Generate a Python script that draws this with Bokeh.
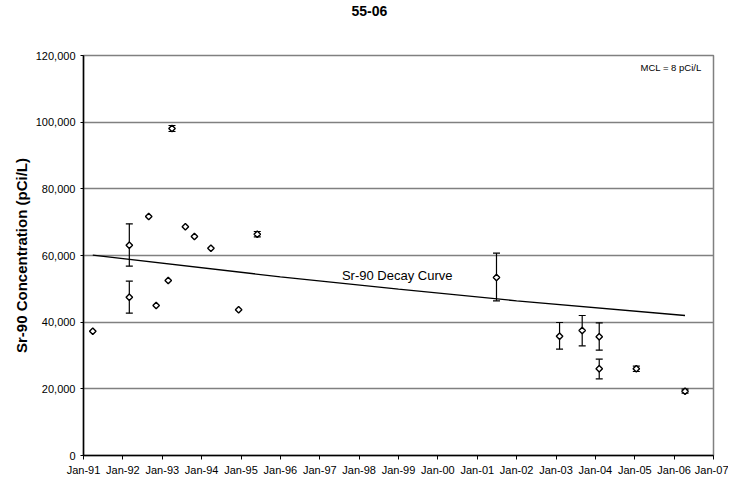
import pandas as pd
from bokeh.plotting import figure
from bokeh.models import (ColumnDataSource, Whisker, TeeHead, FixedTicker, Title,
                          DatetimeTickFormatter, NumeralTickFormatter, Label, Range1d)
from bokeh.embed import file_html
from bokeh.resources import INLINE

# ---- data ----
sample_dates = ["1991-03-28", "1992-03-01", "1992-03-01", "1992-08-28", "1992-11-05",
                "1993-02-25", "1993-04-01", "1993-08-03", "1993-10-26", "1994-03-28",
                "1994-12-10", "1995-06-01", "2001-06-28", "2003-02-03", "2003-09-01",
                "2004-02-06", "2004-02-06", "2005-01-15", "2006-04-12"]
sr90 = [37300, 63100, 47500, 71700, 45000,
        52500, 98100, 68600, 65700, 62200,
        43700, 66400, 53400, 35800, 37500,
        35600, 26000, 26000, 19300]
err_low = [37300, 56800, 42700, 71700, 45000,
           52500, 97200, 68600, 65700, 62200,
           43700, 65600, 46400, 31900, 32900,
           31600, 23000, 25200, 18700]
err_high = [37300, 69500, 52300, 71700, 45000,
            52500, 99000, 68600, 65700, 62200,
            43700, 67200, 60700, 39900, 42000,
            39800, 28900, 26800, 19900]

decay_dates = ["1991-03-28", "1996-01-01", "1999-01-01", "2002-01-01", "2006-04-12"]
decay_vals = [60100, 53600, 49900, 46400, 42000]

year_ticks = list(range(1991, 2008))
y_ticks = [0, 20000, 40000, 60000, 80000, 100000, 120000]

FONT = "Liberation Sans"

x = pd.to_datetime(sample_dates)
src = ColumnDataSource(dict(x=x, y=sr90))
has_err = [i for i in range(len(sr90)) if err_low[i] != err_high[i]]
esrc = ColumnDataSource(dict(x=[x[i] for i in has_err],
                             lo=[err_low[i] for i in has_err],
                             hi=[err_high[i] for i in has_err]))

p = figure(width=728, height=478, output_backend="svg", toolbar_location=None,
           x_axis_type="datetime",
           x_range=Range1d(pd.Timestamp("1991-01-01"), pd.Timestamp("2007-01-01")),
           y_range=Range1d(0, 120000),
           min_border_left=83, min_border_right=15, min_border_top=55, min_border_bottom=21)

p.background_fill_color = "white"
p.border_fill_color = "white"
p.outline_line_color = "#808080"
p.outline_line_width = 1.5

# title
p.title.text = "55-06"
p.title.align = "left"
p.title.offset = 268
p.title.standoff = 7
p.title.text_line_height = 1.0
p.title.text_font = FONT
p.title.text_font_size = "14px"
p.title.text_font_style = "bold"
p.title.text_color = "black"
# spacer between title and plot area
p.add_layout(Title(text=" ", text_font=FONT, text_font_size="14px", text_line_height=1.0,
                   standoff=18), "above")

# grids
p.xgrid.grid_line_color = None
p.ygrid.grid_line_color = "#808080"
p.ygrid.grid_line_width = 1.5
p.ygrid.ticker = FixedTicker(ticks=y_ticks)

# x axis
tick_ms = [pd.Timestamp(f"{yr}-01-01").value // 10**6 for yr in year_ticks]
p.xaxis.ticker = FixedTicker(ticks=tick_ms)
fmt = "%b-%y"
p.xaxis.formatter = DatetimeTickFormatter(milliseconds=fmt, seconds=fmt, minsec=fmt,
                                          minutes=fmt, hourmin=fmt, hours=fmt,
                                          days=fmt, months=fmt, years=fmt)
p.xaxis.major_label_text_font = FONT
p.xaxis.major_label_text_font_size = "11px"
p.xaxis.major_label_text_color = "black"
p.xaxis.major_tick_out = 4
p.xaxis.major_tick_in = 0
p.xaxis.minor_tick_line_color = None
p.xaxis.major_label_standoff = 4
p.xaxis.axis_line_color = "black"
p.xaxis.axis_line_width = 1.5

# y axis
p.yaxis.ticker = FixedTicker(ticks=y_ticks)
p.yaxis.formatter = NumeralTickFormatter(format="0,0")
p.yaxis.major_label_text_font = FONT
p.yaxis.major_label_text_font_size = "11px"
p.yaxis.major_label_text_color = "black"
p.yaxis.major_tick_out = 3
p.yaxis.major_tick_in = 0
p.yaxis.minor_tick_line_color = None
p.yaxis.major_label_standoff = 5
p.yaxis.axis_line_color = "black"
p.yaxis.axis_line_width = 1.5
p.yaxis.axis_label = "Sr-90 Concentration (pCi/L)"
p.yaxis.axis_label_text_font = FONT
p.yaxis.axis_label_text_font_size = "15px"
p.yaxis.axis_label_text_font_style = "bold"
p.yaxis.axis_label_text_color = "black"
p.yaxis.axis_label_standoff = 3

# decay curve
p.line(pd.to_datetime(decay_dates), decay_vals, line_color="black", line_width=1.3)

# error bars
wh = Whisker(source=esrc, base="x", lower="lo", upper="hi", dimension="height",
             line_color="black", line_width=1.2,
             upper_head=TeeHead(size=7, line_color="black", line_width=1.2),
             lower_head=TeeHead(size=7, line_color="black", line_width=1.2))
p.add_layout(wh)

# markers
p.scatter("x", "y", source=src, marker="square", angle=0.785398, size=4.6,
          fill_color="white", line_color="black", line_width=1.4)

# annotations
p.add_layout(Label(x=pd.Timestamp("1997-07-25"), y=54100, text="Sr-90 Decay Curve",
                   text_font=FONT, text_font_size="13px", text_color="black",
                   text_align="left", text_baseline="middle"))
p.add_layout(Label(x=pd.Timestamp("2006-09-12"), y=116300, text="MCL = 8 pCi/L",
                   text_font=FONT, text_font_size="9.5px", text_color="black",
                   text_align="right", text_baseline="middle"))

open("out.html", "w").write(file_html(p, INLINE))
